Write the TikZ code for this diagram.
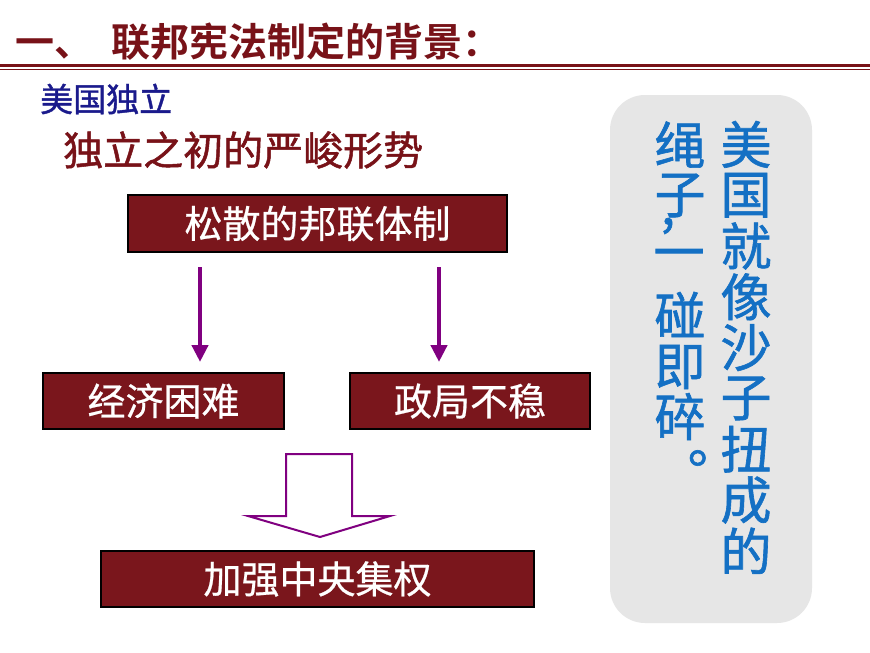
\documentclass[tikz,border=0pt]{standalone}
\usepackage{fontspec}
\usetikzlibrary{arrows.meta}
\newfontfamily\cjk{Noto Sans CJK SC}[BoldFont={Noto Sans CJK SC Bold}]
\newfontfamily\cjkm{Noto Sans CJK SC}[FakeBold=1.2]
\newfontfamily\cjkl{Noto Sans CJK SC}[FakeBold=0.6]
\definecolor{dred}{RGB}{122,22,28}
\definecolor{tred}{RGB}{120,18,24}
\definecolor{navy}{RGB}{26,26,140}
\definecolor{purp}{RGB}{128,0,128}
\definecolor{vblue}{RGB}{20,112,196}
\definecolor{pgray}{RGB}{230,230,230}
\tikzset{
  redbox/.style={draw=black,line width=2pt,fill=dred,text=white,inner sep=0pt,
    font=\cjkl\fontsize{38}{38}\selectfont},
  downarr/.style={draw=purp,line width=4.5pt,-{Triangle[width=16pt,length=17pt]}},
  vchar/.style={text=vblue,inner sep=0pt,font=\cjkm\fontsize{51}{51}\selectfont},
}
\begin{document}
\begin{tikzpicture}[x=1pt,y=-1pt]
\useasboundingbox (0,0) rectangle (870,653);
\fill[white] (0,0) rectangle (870,653);
% title
\node[anchor=west,inner sep=0pt,text=tred,font=\cjk\bfseries\fontsize{39}{39}\selectfont] (title) at (15,42) {一、\hspace{18pt}联邦宪法制定的背景：};
\draw[tred,line width=3pt] (0,65.5) -- (870,65.5);
\draw[tred,line width=1.5pt] (0,69.5) -- (870,69.5);
% subtitles
\node[anchor=west,inner sep=0pt,text=navy,font=\cjkm\fontsize{33}{33}\selectfont] (sub1) at (40,99) {美国独立};
\node[anchor=west,inner sep=0pt,text=tred,font=\cjkm\fontsize{40}{40}\selectfont] (sub2) at (63,150) {独立之初的严峻形势};
% boxes
\node[redbox,minimum width=379pt,minimum height=57pt] (b1) at (317.5,223.5) {松散的邦联体制};
\node[redbox,minimum width=241pt,minimum height=56pt] (b2) at (163.5,401) {经济困难};
\node[redbox,minimum width=240pt,minimum height=56pt] (b3) at (470,401) {政局不稳};
\node[redbox,minimum width=433pt,minimum height=56pt] (b4) at (317.5,579) {加强中央集权};
% thin arrows
\coordinate (a1s) at (200,267);
\coordinate (a1e) at (200,362);
\coordinate (a2s) at (439,267);
\coordinate (a2e) at (439,362);
\draw[downarr] (a1s) -- (a1e);
\draw[downarr] (a2s) -- (a2e);
% block arrow
\draw[purp,line width=2pt,fill=white,line join=miter]
  (286,454) -- (352,454) -- (352,516) -- (390,516) -- (320,537) -- (248,516) -- (286,516) -- cycle;
% right panel
\fill[pgray,rounded corners=35pt] (610,95) rectangle (812,623);
\node[vchar] (v1) at (746,144.4) {美};
\node[vchar] (v2) at (746,195.2) {国};
\node[vchar] (v3) at (746,246) {就};
\node[vchar] (v4) at (746,296.8) {像};
\node[vchar] (v5) at (746,347.6) {沙};
\node[vchar] (v6) at (746,398.4) {子};
\node[vchar] (v7) at (746,449.2) {扭};
\node[vchar] (v8) at (746,500) {成};
\node[vchar] (v9) at (746,550.8) {的};
\node[vchar] (w1) at (680,144.5) {绳};
\node[vchar] (w2) at (680,195.5) {子};
\node[vchar] (w3) at (668,226) {,};
\node[vchar] (w4) at (679,260) {一};
\node[vchar] (w5) at (680,314.5) {碰};
\node[vchar] (w6) at (680,367) {即};
\node[vchar] (w7) at (680,416.5) {碎};
\node[vchar] (w8) at (697,458) {\makebox[0.36em][l]{。}};
\end{tikzpicture}
\end{document}
